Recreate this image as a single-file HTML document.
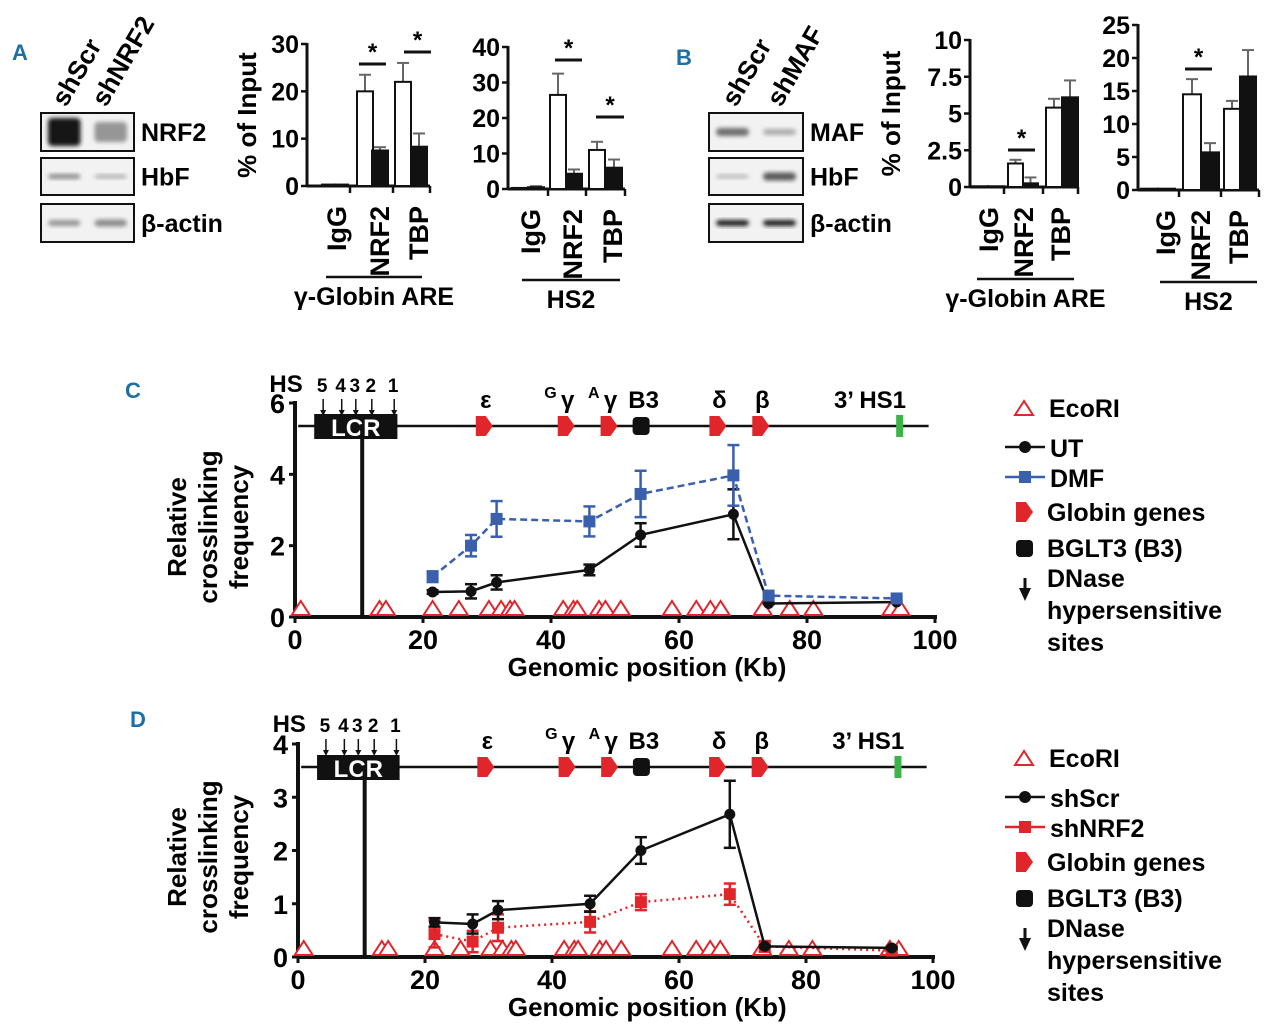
<!DOCTYPE html>
<html><head><meta charset="utf-8">
<style>
html,body{margin:0;padding:0;background:#fff;}
svg{display:block;font-family:"Liberation Sans",Arial,sans-serif;font-weight:bold;}
</style></head>
<body>
<svg id="fig" width="1280" height="1032" viewBox="0 0 1280 1032" xmlns="http://www.w3.org/2000/svg">
<defs>
<filter id="blur" x="-20%" y="-50%" width="140%" height="200%"><feGaussianBlur stdDeviation="2.2"/></filter>
</defs>
<g id="root"></g>
</svg>
<script>
// ---------- Bar chart data ----------
const barCats = ["IgG","NRF2","TBP"];
const aGlobinScr = [0.3, 20, 22];
const aGlobinScrErr = [0, 3.5, 4];
const aGlobinKd = [0.3, 7.5, 8.3];
const aGlobinKdErr = [0, 0.7, 2.8];
const aGlobinTicks = [0,10,20,30];
const aHs2Scr = [0.3, 26.5, 11];
const aHs2ScrErr = [0, 6, 2.3];
const aHs2Kd = [0.5, 4.3, 6];
const aHs2KdErr = [0.3, 1.2, 2.3];
const aHs2Ticks = [0,10,20,30,40];
const bGlobinScr = [0.05, 1.6, 5.4];
const bGlobinScrErr = [0, 0.25, 0.6];
const bGlobinKd = [0.05, 0.25, 6.1];
const bGlobinKdErr = [0, 0.4, 1.15];
const bGlobinTicks = [0,2.5,5,7.5,10];
const bGlobinTickLabels = ["0","2.5","5","7.5","10"];
const bHs2Scr = [0.2, 14.5, 12.3];
const bHs2ScrErr = [0, 2.3, 1.2];
const bHs2Kd = [0.2, 5.7, 17.2];
const bHs2KdErr = [0, 1.4, 4];
const bHs2Ticks = [0,5,10,15,20,25];

// ---------- Crosslinking data ----------
const cPosKb = [21.5, 27.5, 31.5, 46, 54, 68.5, 74, 94];
const cUT = [0.7, 0.72, 0.97, 1.32, 2.3, 2.88, 0.38, 0.42];
const cUTErr = [0.05, 0.2, 0.2, 0.15, 0.33, 0.7, 0.02, 0.02];
const cDMF = [1.13, 2.0, 2.75, 2.68, 3.45, 3.97, 0.6, 0.52];
const cDMFErr = [0.15, 0.3, 0.5, 0.42, 0.65, 0.85, 0.03, 0.03];
const cYTicks = [0,2,4,6];
const dPosKb = [21.5, 27.5, 31.5, 46, 54, 68, 73.5, 93.5];
const dScr = [0.65, 0.62, 0.88, 1.0, 2.0, 2.68, 0.2, 0.17];
const dScrErr = [0.08, 0.18, 0.17, 0.15, 0.25, 0.63, 0.02, 0.02];
const dNrf2 = [0.43, 0.29, 0.55, 0.66, 1.03, 1.18, 0.2, 0.12];
const dNrf2Err = [0.25, 0.2, 0.25, 0.2, 0.15, 0.2, 0.1, 0.03];
const dYTicks = [0,1,2,3,4];
const xTicksKb = [0,20,40,60,80,100];
const ecoRIKb = [0.9,13.2,14.2,21.5,25.6,30.3,32.2,33.6,34.3,41.9,43.5,44.1,47.5,48.5,50.9,58.9,62.7,64.9,66.5,73.1,77.3,81,93.2,94.6];
const hsSitesKb = [4.4,7.3,9.5,12,15.5];
const hsDigits = ["5","4","3","2","1"];
const geneKb = [29.5,42.3,49,66,72.7];
const geneLabels = ["ε","γ","γ","δ","β"];
const geneSup = ["","G","A","",""];

const NS="http://www.w3.org/2000/svg";
const root=document.getElementById('root');
function el(tag,attrs,parent,txt){const e=document.createElementNS(NS,tag);for(const k in attrs)e.setAttribute(k,attrs[k]);if(txt!==undefined)e.textContent=txt;(parent||root).appendChild(e);return e;}
function grp(name,parent){const g=el('g',{},parent);


return g;}
function txt(name,x,y,s,size,parent,extra){const t=el('text',Object.assign({x:x,y:y,'font-size':size},extra||{}),parent,s);


return t;}

// Panel letters
txt('panel-letter-a',12,60,'A',22,root,{fill:'#1e6fa3'});
txt('panel-letter-b',676,65,'B',22,root,{fill:'#1e6fa3'});
txt('panel-letter-c',125,398,'C',22,root,{fill:'#1e6fa3'});
txt('panel-letter-d',130,727,'D',22,root,{fill:'#1e6fa3'});

// ---------- Western blots ----------
function blot(name,x0,x1,lanes,labels,bands,lanesX){
  const g=grp(name);
  lanes.forEach((l,i)=>{txt('lane-label-'+l.toLowerCase(),lanesX[i],108,l,26,g,{transform:`rotate(-60 ${lanesX[i]} 108)`});});
  const rows=[[113,151],[158,195],[204,242]];
  rows.forEach((r,ri)=>{
    const bx=el('rect',{x:x0,y:r[0],width:x1-x0,height:r[1]-r[0],fill:'#f2f2f2',stroke:'#111','stroke-width':2},g);
    
    
    const w=(x1-x0)/2;
    bands[ri].forEach((b,bi)=>{
      el('rect',{x:x0+bi*w+7,y:(r[0]+r[1])/2-b[1]/2,width:w-14,height:b[1],rx:4,fill:`rgb(${b[0]},${b[0]},${b[0]})`,filter:'url(#blur)'},g);
    });
    txt('blot-label-'+ri,x1+7,(r[0]+r[1])/2+9,labels[ri],25,g);
  });
}
blot('western-blot-a',41,134,['shScr','shNRF2'],['NRF2','HbF','β-actin'],[[[20,28],[150,20]],[[140,5],[175,4]],[[150,6],[140,7]]],[66,106]);
blot('western-blot-b',709,803,['shScr','shMAF'],['MAF','HbF','β-actin'],[[[110,8],[170,6]],[[185,4],[90,8]],[[30,6],[30,6]]],[736,781]);

// ---------- Bar charts ----------
function barChart(name,ax,axEnd,y0,yTop,ymax,ticks,tickLabels,scr,scrErr,kd,kdErr,sep,bars,sig,catX,groupLine,groupLabel,showYTitle,titleX){
  const g=grp(name);
  const Y=v=>y0-(v/ymax)*(y0-yTop);
  el('line',{x1:ax,y1:Y(ymax)-1,x2:ax,y2:y0,stroke:'#111','stroke-width':3},g);
  el('line',{x1:ax,y1:y0,x2:axEnd,y2:y0,stroke:'#111','stroke-width':3},g);
  ticks.forEach((t,i)=>{el('line',{x1:ax-6,y1:Y(t),x2:ax,y2:Y(t),stroke:'#111','stroke-width':2.5},g);
    txt('y-tick-'+t,ax-8,Y(t)+9,tickLabels[i],25,g,{'text-anchor':'end'});});
  sep.forEach(s=>el('line',{x1:s,y1:y0,x2:s,y2:y0+7,stroke:'#111','stroke-width':2.5},g));
  el('line',{x1:axEnd,y1:y0,x2:axEnd,y2:y0+7,stroke:'#111','stroke-width':2.5},g);
  scr.forEach((v,i)=>{
    const b=bars[i];
    [[v,scrErr[i],b[0],'#fff'],[kd[i],kdErr[i],b[1],'#111']].forEach(([val,err,xx,fill],k)=>{
      const w=b[2];
      if(err>0){el('line',{x1:xx+w/2,y1:Y(val),x2:xx+w/2,y2:Y(val+err),stroke:'#666','stroke-width':2},g);
        el('line',{x1:xx+w/2-6,y1:Y(val+err),x2:xx+w/2+6,y2:Y(val+err),stroke:'#666','stroke-width':2},g);}
      const r=el('rect',{x:xx,y:Y(val),width:w,height:Math.max(0.5,y0-Y(val)),fill:fill,stroke:'#111','stroke-width':2},g);
      
      
    });
  });
  sig.forEach(s=>{el('line',{x1:s[0],y1:s[2],x2:s[1],y2:s[2],stroke:'#111','stroke-width':3},g);
    txt('significance-star',(s[0]+s[1])/2,s[2]-4,'*',24,g,{'text-anchor':'middle'});});
  barCats.forEach((c,i)=>txt('x-label-'+c.toLowerCase(),catX[i]+10,y0+20,c,27,g,{'text-anchor':'end',transform:`rotate(-90 ${catX[i]+10} ${y0+20})`}));
  el('line',{x1:groupLine[0],y1:groupLine[2],x2:groupLine[1],y2:groupLine[2],stroke:'#111','stroke-width':2.5},g);
  txt('group-label',(groupLine[0]+groupLine[1])/2,groupLine[2]+28,groupLabel,25,g,{'text-anchor':'middle'});
  if(showYTitle) txt('y-axis-title',titleX,(y0+yTop)/2,'% of Input',26,g,{'text-anchor':'middle',transform:`rotate(-90 ${titleX} ${(y0+yTop)/2})`});
}
barChart('bar-chart-a-globin',307,430,186,44,30,aGlobinTicks,aGlobinTicks.map(String),aGlobinScr,aGlobinScrErr,aGlobinKd,aGlobinKdErr,[350,393],
  [[322,335,13],[357,372,16],[395,411,16]],[[359,386,64],[404,431,52]],[336,379,418],[326,422,277],'γ-Globin ARE',true,256);
barChart('bar-chart-a-hs2',508,625,189,47,40,aHs2Ticks,aHs2Ticks.map(String),aHs2Scr,aHs2ScrErr,aHs2Kd,aHs2KdErr,[548,586],
  [[512,528,16],[550,566,16],[589,606,16]],[[555,582,60],[596,624,117]],[530,572,612],[522,620,280],'HS2',false,0);
barChart('bar-chart-b-globin',970,1078,187,40,10,bGlobinTicks,bGlobinTickLabels,bGlobinScr,bGlobinScrErr,bGlobinKd,bGlobinKdErr,[1004,1043],
  [[972,988,16],[1008,1023,15],[1046,1062,16]],[[1008,1035,150]],[988,1023,1060],[977,1074,279],'γ-Globin ARE',true,900);
barChart('bar-chart-b-hs2',1138,1259,190,25,25,bHs2Ticks,bHs2Ticks.map(String),bHs2Scr,bHs2ScrErr,bHs2Kd,bHs2KdErr,[1179,1221],
  [[1141,1158,17],[1183,1201,18],[1224,1240,16]],[[1185,1212,69]],[1165,1200,1238],[1160,1257,282],'HS2',false,0);

// ---------- Crosslinking plots ----------
function tri(g,x,y){const p=el('polygon',{points:`${x},${y-10} ${x-9},${y+4} ${x+9},${y+4}`,fill:'#fff',stroke:'#e0262b','stroke-width':2},g);

}
function geneArrow(g,x,y){return el('polygon',{points:`${x-8},${y-10} ${x+2},${y-10} ${x+9},${y} ${x+2},${y+10} ${x-8},${y+10}`,fill:'#e0262b'},g);}
function crossPlot(name,X,y0,ymax,yTopPix,ticks,trackY,pos,s1,s1e,s2,s2e,c1,c2,dash2,mark2,hsY,titleY,xlabY){
  const g=grp(name);
  const Y=v=>y0-v*(y0-yTopPix)/ymax;
  el('line',{x1:X(0),y1:Y(ymax)-2,x2:X(0),y2:y0,stroke:'#111','stroke-width':4},g);
  el('line',{x1:X(0),y1:y0,x2:X(100)+2,y2:y0,stroke:'#111','stroke-width':4},g);
  ticks.forEach(t=>{el('line',{x1:X(0)-6,y1:Y(t),x2:X(0),y2:Y(t),stroke:'#111','stroke-width':3},g);
    txt('y-tick-'+t,X(0)-10,Y(t)+10,String(t),27,g,{'text-anchor':'end'});});
  xTicksKb.forEach(t=>{el('line',{x1:X(t),y1:y0,x2:X(t),y2:y0+6,stroke:'#111','stroke-width':3},g);
    txt('x-tick-'+t,X(t),y0+32,String(t),27,g,{'text-anchor':'middle'});});
  txt('x-axis-title',X(55),xlabY,'Genomic position (Kb)',26,g,{'text-anchor':'middle'});
  ['Relative','crosslinking','frequency'].forEach((w,i)=>{const xx=186+i*31;txt('y-axis-title',xx,titleY,w,26,g,{'text-anchor':'middle',transform:`rotate(-90 ${xx} ${titleY})`});});
  el('line',{x1:X(0.5),y1:trackY,x2:X(99),y2:trackY,stroke:'#111','stroke-width':2.5},g);
  const lcr=el('rect',{x:X(3),y:trackY-12,width:X(16)-X(3),height:25,fill:'#111'},g);
  
  
  txt('lcr-label',X(9.5),trackY+10,'LCR',24,g,{'text-anchor':'middle',fill:'#fff'});
  el('line',{x1:X(10.5),y1:trackY,x2:X(10.5),y2:y0,stroke:'#111','stroke-width':4},g);
  txt('hs-label',X(-4),hsY,'HS',24,g);
  hsSitesKb.forEach((k,i)=>{txt('hs-digit',X(k)-1,hsY,hsDigits[i],19,g,{'text-anchor':'middle'});
    el('line',{x1:X(k),y1:hsY+7,x2:X(k),y2:hsY+20,stroke:'#111','stroke-width':1.5},g);
    el('polygon',{points:`${X(k)-3},${hsY+18} ${X(k)+3},${hsY+18} ${X(k)},${hsY+24}`,fill:'#111'},g);});
  geneKb.forEach((k,i)=>{const a=geneArrow(g,X(k),trackY);
    
    
    txt('gene-label',X(k)+2,trackY-18,geneLabels[i],24,g,{'text-anchor':'middle'});
    if(geneSup[i]) txt('gene-superscript',X(k)-9,trackY-28,geneSup[i],16,g,{'text-anchor':'end'});});
  const b3=el('rect',{x:X(54)-8,y:trackY-9,width:17,height:18,rx:4,fill:'#111'},g);
  
  
  txt('b3-label',X(54)+3,trackY-18,'B3',24,g,{'text-anchor':'middle'});
  el('rect',{x:X(94.4)-3,y:trackY-11,width:7,height:22,fill:'#3cb44a'},g);
  txt('3hs1-label',X(95)+3,trackY-18,'3’ HS1',24,g,{'text-anchor':'end'});
  ecoRIKb.forEach(k=>tri(g,X(k),y0-6));
  function series(vals,errs,color,dash,marker,sname){
    const sg=grp(sname,g);
    const pts=pos.map((p,i)=>`${X(p)},${Y(vals[i])}`).join(' ');
    el('polyline',{points:pts,fill:'none',stroke:color,'stroke-width':2.5,'stroke-dasharray':dash},sg);
    pos.forEach((p,i)=>{const x=X(p),yv=Y(vals[i]),e=errs[i];
      el('line',{x1:x,y1:Y(vals[i]-e),x2:x,y2:Y(vals[i]+e),stroke:color,'stroke-width':2.5},sg);
      [Y(vals[i]-e),Y(vals[i]+e)].forEach(yy=>el('line',{x1:x-6,y1:yy,x2:x+6,y2:yy,stroke:color,'stroke-width':2.5},sg));
      let m;
      if(marker==='circle') m=el('circle',{cx:x,cy:yv,r:5.5,fill:color},sg);
      else m=el('rect',{x:x-6,y:yv-6,width:12,height:12,fill:color},sg);
      
      
    });
  }
  if(mark2==='blue'){series(s1,s1e,c1,'','circle','series-ut');series(s2,s2e,c2,dash2,'square','series-dmf');}
  else{series(s2,s2e,c2,dash2,'square','series-shnrf2');series(s1,s1e,c1,'','circle','series-shscr');}
}
crossPlot('crosslinking-plot-c',kb=>295+kb*6.4,617,6,403,cYTicks,426,cPosKb,cUT,cUTErr,cDMF,cDMFErr,'#111','#3a5fad','7,4','blue',392,527,676);
crossPlot('crosslinking-plot-d',kb=>298+kb*6.35,957,4,744,dYTicks,767,dPosKb,dScr,dScrErr,dNrf2,dNrf2Err,'#111','#e0262b','2,4','red',732,857,1016);

// ---------- Legends ----------
function legend(name,y0,s1,s2,c2){
  const g=grp(name);
  tri(g,1024,y0+4);
  txt('legend-ecori',1049,y0+10,'EcoRI',25,g);
  let y=y0+40;
  el('line',{x1:1005,y1:y,x2:1045,y2:y,stroke:'#111','stroke-width':2.5},g);
  el('circle',{cx:1025,cy:y,r:6,fill:'#111'},g);
  txt('legend-'+s1.toLowerCase(),1050,y+10,s1,25,g);
  y+=30;
  el('line',{x1:1005,y1:y,x2:1045,y2:y,stroke:c2,'stroke-width':2.5},g);
  el('rect',{x:1019,y:y-6,width:12,height:12,fill:c2},g);
  txt('legend-'+s2.toLowerCase(),1050,y+10,s2,25,g);
  y+=35;
  geneArrow(g,1024,y);
  txt('legend-globin-genes',1047,y+9,'Globin genes',25,g);
  y+=36;
  el('rect',{x:1016,y:y-8,width:17,height:17,rx:4,fill:'#111'},g);
  txt('legend-bglt3',1047,y+9,'BGLT3 (B3)',25,g);
  y+=36;
  el('line',{x1:1025,y1:y-6,x2:1025,y2:y+6,stroke:'#111','stroke-width':3},g);
  el('polygon',{points:`1019,${y+4} 1031,${y+4} 1025,${y+17}`,fill:'#111'},g);
  txt('legend-dnase',1047,y+3,'DNase',25,g);
  txt('legend-hypersensitive',1047,y+35,'hypersensitive',25,g);
  txt('legend-sites',1047,y+67,'sites',25,g);
}
legend('legend-c',407,'UT','DMF','#3a5fad');
legend('legend-d',757,'shScr','shNRF2','#e0262b');
</script>
</body></html>
